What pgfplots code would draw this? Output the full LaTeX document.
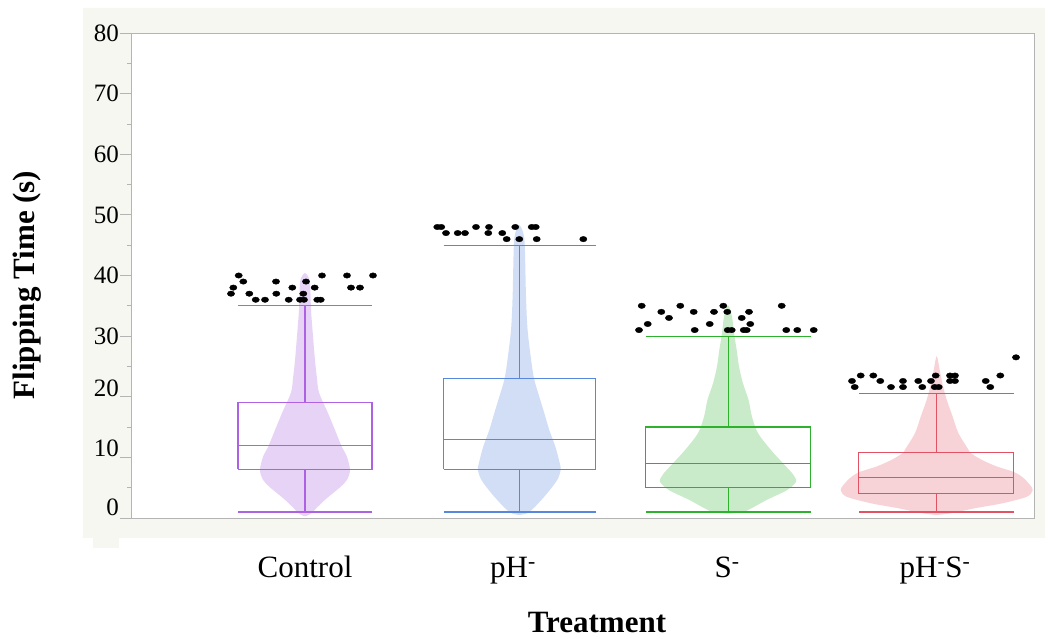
\documentclass[border=0pt]{standalone}
\usepackage{pgfplots}
\pgfplotsset{compat=1.18}
\usepackage{pgfplotstable}
\usepackage{fontspec}
\setmainfont{Liberation Serif}

\definecolor{bgframe}{RGB}{247,247,242}
\definecolor{axgray}{RGB}{180,180,180}
\definecolor{cctrl}{RGB}{172,98,226}
\definecolor{cph}{RGB}{88,136,222}
\definecolor{cs}{RGB}{46,178,46}
\definecolor{cphs}{RGB}{226,82,100}

% violin outlines: value v, signed half-width w (x units), right side up then left side down
\pgfplotstableread{
v w
0.3 0
0.6 5
1.9 13
3.0 20
4.1 28
5.2 36
6.3 42
7.9 45
10.1 42
11.8 36.7
14.5 30
17.3 23
20.7 14
23 12
26 10
30 8
34.3 6
37 5.5
39.3 4.5
40.4 0
39.3 -4.5
37 -5.5
34.3 -6
30 -8
26 -10
23 -12
20.7 -14
17.3 -23
14.5 -30
11.8 -36.7
10.1 -42
7.9 -45
6.3 -42
5.2 -36
4.1 -28
3.0 -20
1.9 -13
0.6 -5
0.3 0
}\violinCtrl

\pgfplotstableread{
v w
0.5 0
0.8 8
1.9 16
4.1 28
6.3 38
7.9 41.3
9.0 40.5
11.8 36
14.5 30
17.3 25
20 20
22.8 15
25.5 12.3
31 8.3
36.5 6.7
44.8 5.5
47 4
48.3 0
47 -4
44.8 -5.5
36.5 -6.7
31 -8.3
25.5 -12.3
22.8 -15
20 -20
17.3 -25
14.5 -30
11.8 -36
9.0 -40.5
7.9 -41.3
6.3 -38
4.1 -28
1.9 -16
0.8 -8
0.5 0
}\violinPH

\pgfplotstableread{
v w
0.7 0
0.9 12
1.3 20
3.0 39
4.6 59
6.0 68
7.2 65
8.5 58
11.2 43
14 30
16.7 24
19.5 20.5
22.2 15
25 11
27.7 8.7
30.5 6
33.2 4
35.1 0
33.2 -4
30.5 -6
27.7 -8.7
25 -11
22.2 -15
19.5 -20.5
16.7 -24
14 -30
11.2 -43
8.5 -58
7.2 -65
6.0 -68
4.6 -59
3.0 -39
1.3 -20
0.9 -12
0.7 0
}\violinS

\pgfplotstableread{
v w
0.5 0
0.8 15
1.6 38
2.4 65
3.5 90
4.6 96
5.5 93
6.7 86
7.6 77
8.5 60
9.6 45
10.7 34
11.2 32
14 21.7
16.7 16
19.5 10
22.2 5.7
24.4 3
26.7 0
24.4 -3
22.2 -5.7
19.5 -10
16.7 -16
14 -21.7
11.2 -32
10.7 -34
9.6 -45
8.5 -60
7.6 -77
6.7 -86
5.5 -93
4.6 -96
3.5 -90
2.4 -65
1.6 -38
0.8 -15
0.5 0
}\violinPHS

% individual points beyond the upper whiskers
\pgfplotstableread{
x y
238.7 40
243.3 39
233.3 38
231 37
249.3 37
255.7 36
265 36
276 39
276.3 37
288.7 36
292.3 38
300 36
304 36
303.3 37
306 39
314.7 38
317.3 36
320.7 36
322 40
347 40
351 38
360 38
373 40
437.3 48
441.3 48
446 47
457.7 47
465 47
476 48
488.3 47
489 48
502.3 47
506.7 46
515.3 48
519.3 46
531.7 48
535.7 48
536.7 46
583.3 46
641.7 35
661.3 34
669 33
647.7 32
639 31
680.3 35
693.7 34
694.7 31
709.7 32
714 34
723.3 35
727.3 34
727.7 31
731.7 31
741.7 33
749 34
750.3 32
743.7 31
746.7 31
781.7 35
786.3 31
797.3 31
813.7 31
852 22.6
854.7 21.6
860.7 23.5
873.3 23.5
880.3 22.6
891 21.6
903 22.6
903 21.6
918.3 22.6
922.3 21.6
931 22.6
935.7 23.5
934.7 21.6
938.7 21.6
950 23.5
955 23.5
950 22.6
955 22.6
985.7 22.6
990.3 21.6
1000.3 23.5
1016 26.5
}\outliers

\begin{document}
\begin{tikzpicture}
\path[use as bounding box] (-131pt,-121pt) rectangle (918pt,518pt);
% pale frame around the plotting area
\fill[bgframe, even odd rule] (-48pt,-20pt) rectangle (914pt,510pt) (0pt,0pt) rectangle (903pt,485pt);
\fill[bgframe] (-38pt,-30pt) rectangle (-12pt,-20pt);
\begin{axis}[
  at={(0pt,0pt)}, anchor=south west,
  scale only axis, width=903pt, height=485pt,
  xmin=131, xmax=1034, ymin=0, ymax=80,
  axis background/.style={fill=white},
  axis line style={axgray, line width=0.8pt},
  tick pos=left, tick align=outside,
  major tick length=11pt, minor tick length=4pt,
  tick style={axgray, line width=0.8pt},
  ytick={0,10,...,80}, minor y tick num=1,
  yticklabels={\raisebox{11pt}[\height][\depth]{0},\raisebox{9pt}[\height][\depth]{10},\raisebox{8pt}[\height][\depth]{20},30,40,50,60,70,80},
  yticklabel style={font=\fontsize{25}{30}\selectfont, inner sep=1pt},
  xtick={305,513,727,935},
  xticklabels={Control, pH\textsuperscript{-}, S\textsuperscript{-}, pH\textsuperscript{-}S\textsuperscript{-}},
  xtick style={draw=none},
  xticklabel style={font=\fontsize{31}{36}\selectfont, anchor=base, yshift=-49pt},
  xlabel={Treatment}, ylabel={Flipping Time (s)},
  label style={font=\fontsize{31}{37}\selectfont\bfseries},
  xlabel style={at={(axis description cs:0.516,-0.2145)}, anchor=center},
  ylabel style={at={(axis description cs:-0.1152,0.4804)}, anchor=center},
  unbounded coords=jump,
]
% points
\addplot[only marks, mark=*, mark size=3.3pt, black, mark options={xscale=1.1, yscale=0.82}] table[x=x, y=y] {\outliers};

% violins
\addplot[draw=none, fill=cctrl, fill opacity=0.28, smooth, tension=0.5] table[x expr=305+\thisrow{w}, y=v] {\violinCtrl};
\addplot[draw=none, fill=cph, fill opacity=0.27, smooth, tension=0.5] table[x expr=519.3+\thisrow{w}, y=v] {\violinPH};
\addplot[draw=none, fill=cs, fill opacity=0.25, smooth, tension=0.5] table[x expr=728+\thisrow{w}, y=v] {\violinS};
\addplot[draw=none, fill=cphs, fill opacity=0.25, smooth, tension=0.5] table[x expr=936.7+\thisrow{w}, y=v] {\violinPHS};

% box plots: box (Q1..Q3), median, whiskers with caps
% Control: 1 / 8 / 12 / 19 / 35
\addplot[cctrl, line width=1.2pt] coordinates {
 (238,8) (372,8) (372,19) (238,19) (238,8) (nan,nan)
 (238,12) (372,12) (nan,nan)
 (305,8) (305,1) (nan,nan) (238,1) (372,1) (nan,nan)
 (305,19) (305,35) (nan,nan) (238,35) (372,35)};
% pH-: 1 / 8 / 13 / 23 / 45
\addplot[cph, line width=1.2pt] coordinates {
 (443.5,8) (595.5,8) (595.5,23) (443.5,23) (443.5,8) (nan,nan)
 (443.5,13) (595.5,13) (nan,nan)
 (519.5,8) (519.5,1) (nan,nan) (443.5,1) (595.5,1) (nan,nan)
 (519.5,23) (519.5,45) (nan,nan) (443.5,45) (595.5,45)};
% S-: 1 / 5 / 9 / 15 / 30
\addplot[cs, line width=1.2pt] coordinates {
 (645.8,5) (810.8,5) (810.8,15) (645.8,15) (645.8,5) (nan,nan)
 (645.8,9) (810.8,9) (nan,nan)
 (728.3,5) (728.3,1) (nan,nan) (645.8,1) (810.8,1) (nan,nan)
 (728.3,15) (728.3,30) (nan,nan) (645.8,30) (810.8,30)};
% pH-S-: 1 / 4 / 6.7 / 10.8 / 20.5
\addplot[cphs, line width=1.2pt] coordinates {
 (858.8,4) (1013.8,4) (1013.8,10.8) (858.8,10.8) (858.8,4) (nan,nan)
 (858.8,6.7) (1013.8,6.7) (nan,nan)
 (936.3,4) (936.3,1) (nan,nan) (858.8,1) (1013.8,1) (nan,nan)
 (936.3,10.8) (936.3,20.5) (nan,nan) (858.8,20.5) (1013.8,20.5)};
\end{axis}
\end{tikzpicture}
\end{document}
